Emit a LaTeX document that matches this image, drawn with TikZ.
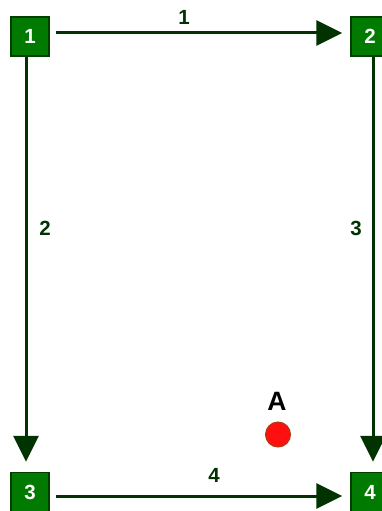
\documentclass[tikz,border=0pt]{standalone}
\usepackage{fontspec}
\setmainfont{Liberation Sans}
\usetikzlibrary{arrows.meta}
\definecolor{pcFill}{HTML}{007A00}
\definecolor{pcEdge}{HTML}{003F00}
\definecolor{pcInk}{HTML}{003300}
\definecolor{pcDot}{HTML}{FF1010}
\definecolor{pcDotEdge}{HTML}{B03A10}
\tikzset{
  pc corner/.style={
    draw=pcEdge, fill=pcFill, line width=1.5pt,
    minimum width=38pt, minimum height=39pt, inner sep=0pt,
    font=\bfseries\fontsize{20.5}{20.5}\selectfont, text=white
  },
  pc path/.style={
    draw=pcInk, line width=3pt,
    -{Triangle[length=26pt,width=25pt]}
  },
  pc label/.style={font=\bfseries\fontsize{20.5}{20.5}\selectfont, text=pcInk},
  pc point/.style={circle, fill=pcDot, draw=pcDotEdge, line width=1pt,
    minimum size=25pt, inner sep=0pt}
}
\begin{document}
\begin{tikzpicture}[x=1pt,y=-1pt]
  \useasboundingbox (0,0) rectangle (382,511);

  \node[pc corner] (c1) at (30,36.5) {1};
  \node[pc corner] (c2) at (370,36.5) {2};
  \node[pc corner] (c3) at (30,492) {3};
  \node[pc corner] (c4) at (370,492) {4};

  % moves between corners
  \draw[pc path, shorten <=6pt, shorten >=8pt]
    ([yshift=3.5pt]c1.east) -- ([yshift=3.5pt]c2.west);
  \draw[pc path, shorten >=10pt]
    ([xshift=-4pt]c1.south) -- ([xshift=-4pt]c3.north);
  \draw[pc path, shorten >=10pt]
    ([xshift=3pt]c2.south) -- ([xshift=3pt]c4.north);
  \draw[pc path, shorten <=6pt, shorten >=8pt]
    ([yshift=-4pt]c3.east) -- ([yshift=-4pt]c4.west);

  \node[pc label] (l1) at (184,17) {1};
  \node[pc label] (l2) at (45,228) {2};
  \node[pc label] (l3) at (356,228) {3};
  \node[pc label] (l4) at (214,475) {4};

  \node[pc point] (pa) at (278,434.5) {};
  \node[font=\bfseries\fontsize{26.5}{26.5}\selectfont] (la) at (277,401.5) {A};
\end{tikzpicture}
\end{document}
